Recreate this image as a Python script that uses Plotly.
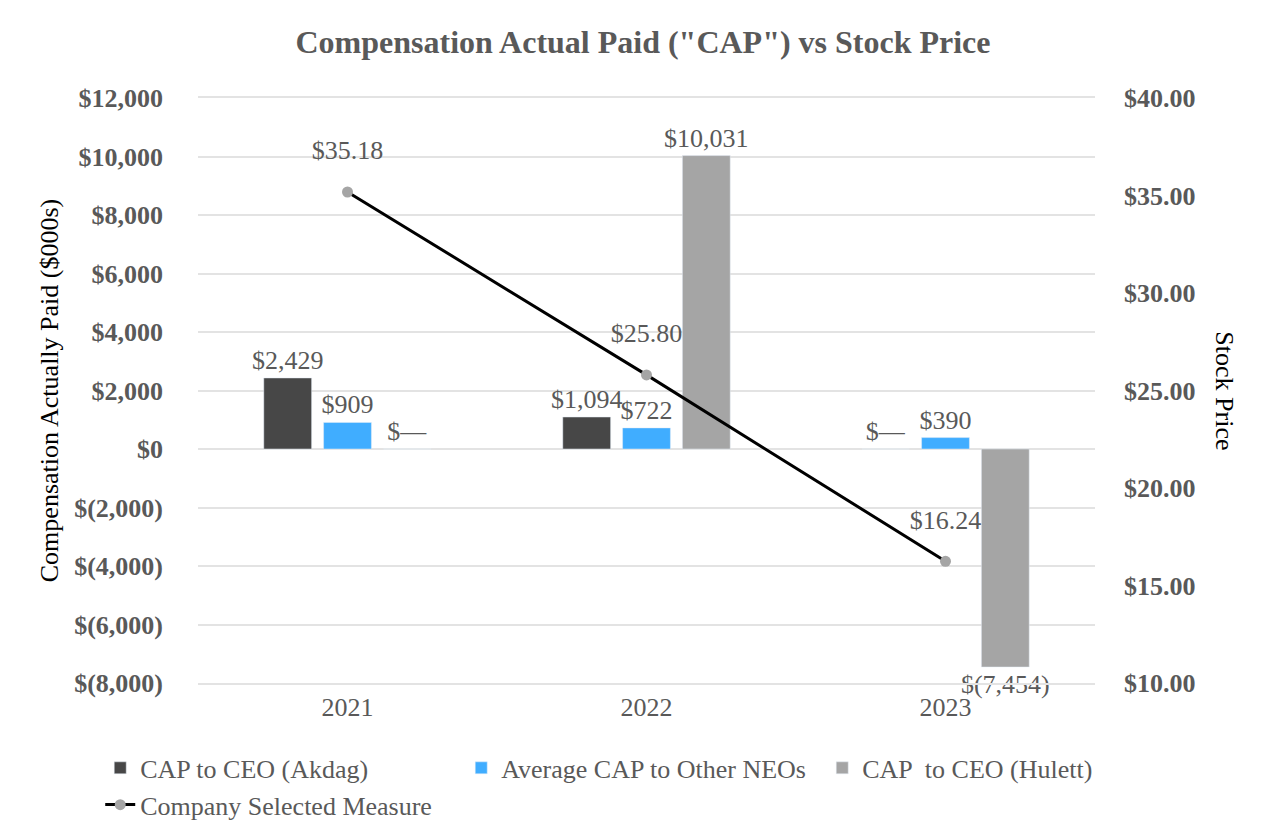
import plotly.graph_objects as go

years = ["2021", "2022", "2023"]
cap_akdag = [2429, 1094, 0]
cap_other_neos = [909, 722, 390]
cap_hulett = [0, 10031, -7454]
stock_price = [35.18, 25.80, 16.24]

left_ticks = [12000, 10000, 8000, 6000, 4000, 2000, 0, -2000, -4000, -6000, -8000]
left_tick_text = ["$12,000", "$10,000", "$8,000", "$6,000", "$4,000", "$2,000", "$0",
                  "$(2,000)", "$(4,000)", "$(6,000)", "$(8,000)"]
right_ticks = [40, 35, 30, 25, 20, 15, 10]
right_tick_text = ["$40.00", "$35.00", "$30.00", "$25.00", "$20.00", "$15.00", "$10.00"]

FONT = "Liberation Serif"
GREY_TXT = "#595959"
GRID = "#E3E3E3"
FS = 26


def money(v):
    if v == 0:
        return "$\u2014"
    if v < 0:
        return "$({:,})".format(-v)
    return "${:,}".format(v)


fig = go.Figure()
bar_series = [
    ("CAP to CEO (Akdag)", cap_akdag, "#474747"),
    ("Average CAP to Other NEOs", cap_other_neos, "#40ADFF"),
    ("CAP  to CEO (Hulett)", cap_hulett, "#A5A5A5"),
]
for name, vals, col in bar_series:
    fig.add_trace(go.Bar(
        x=years, y=vals, name=name, marker_color=col,
        text=[money(v) for v in vals], textposition="outside",
        constraintext="none",
        textfont=dict(family=FONT, size=FS, color=GREY_TXT),
        cliponaxis=False,
    ))

fig.add_trace(go.Scatter(
    x=years, y=stock_price, name="Company Selected Measure", yaxis="y2",
    mode="lines+markers",
    line=dict(color="black", width=3),
    marker=dict(color="#A5A5A5", size=11),
    cliponaxis=False,
))
# value labels for the line, lifted above the markers by an invisible marker
fig.add_trace(go.Scatter(
    x=years, y=stock_price, yaxis="y2", showlegend=False, hoverinfo="skip",
    mode="markers+text",
    marker=dict(size=40, opacity=0),
    text=["${:.2f}".format(v) for v in stock_price],
    textposition="top center",
    textfont=dict(family=FONT, size=FS, color=GREY_TXT),
    cliponaxis=False,
))

fig.update_layout(
    width=1270, height=832,
    margin=dict(l=190, r=183, t=90, b=154),
    plot_bgcolor="white", paper_bgcolor="white",
    font=dict(family=FONT, color=GREY_TXT),
    title=dict(text='Compensation Actual Paid ("CAP") vs Stock Price',
               x=0.5, xanchor="center", y=0.959, yanchor="middle",
               font=dict(family=FONT, size=32, color=GREY_TXT, weight="bold")),
    barmode="group", bargap=0.4, bargroupgap=0.2,
    xaxis=dict(showgrid=False, showline=True, mirror=True, linecolor=GRID, linewidth=1.5,
               ticks="", tickfont=dict(family=FONT, size=FS, color=GREY_TXT)),
    yaxis=dict(range=[-8000, 12000], tickvals=left_ticks, ticktext=left_tick_text,
               showgrid=True, gridcolor=GRID, gridwidth=1.5, zeroline=False,
               tickfont=dict(family=FONT, size=FS, color=GREY_TXT, weight="bold"),
               ticklabelstandoff=34,
               title=dict(text="Compensation Actually Paid ($000s)", standoff=8,
                          font=dict(family=FONT, size=FS, color="black"))),
    yaxis2=dict(range=[10, 40], tickvals=right_ticks, ticktext=right_tick_text,
                overlaying="y", side="right", showgrid=False, zeroline=False,
                ticklabelstandoff=28,
                tickfont=dict(family=FONT, size=FS, color=GREY_TXT, weight="bold")),
    legend=dict(orientation="h", x=-0.109, xanchor="left", y=-0.105, yanchor="top",
                entrywidth=316, entrywidthmode="pixels", traceorder="normal",
                font=dict(family=FONT, size=FS, color=GREY_TXT)),
    annotations=[dict(text="Stock Price", textangle=90, xref="paper", yref="paper",
                      x=1.144, y=0.5, xanchor="center", yanchor="middle", showarrow=False,
                      font=dict(family=FONT, size=FS, color="black"))],
)

fig.write_html("out.html")
